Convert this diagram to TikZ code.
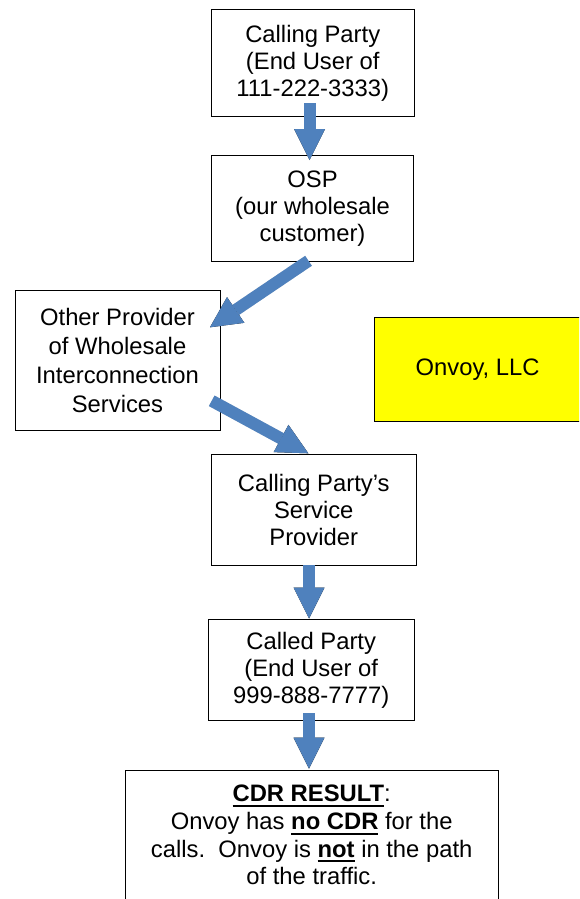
\documentclass[tikz,border=0pt]{standalone}
\usepackage{fontspec}
\setmainfont{Liberation Sans}
\usetikzlibrary{arrows.meta}
\definecolor{arrowblue}{HTML}{4F81BD}
\definecolor{boxyellow}{HTML}{FFFF00}
\newsavebox\ulbox
\newcommand\myul[1]{\sbox\ulbox{#1}\rlap{\rule[-5.2pt]{\wd\ulbox}{1.9pt}}\usebox\ulbox}
\begin{document}
\begin{tikzpicture}[x=1pt,y=-1pt,
  box/.style={draw=black, line width=1pt, align=center, inner sep=0pt,
    font=\fontsize{23.8pt}{27pt}\selectfont},
  blockarrow/.style={draw=arrowblue, line width=12pt,
    -{Triangle[width=31pt,length=31pt,line width=0pt]}},
  arrowshadow/.style={draw=black, draw opacity=0.12, line width=12pt,
    -{Triangle[width=31pt,length=31pt,line width=0pt]}}
]
\useasboundingbox (0,0) rectangle (579,899);
\clip (0,0) rectangle (579,899);
\fill[white] (0,0) rectangle (579,899);

\node[box, minimum width=202.5pt, minimum height=107pt] (b1) at (312.75,63)
  {Calling Party\\(End User of\\111-222-3333)};
\node[box, minimum width=202pt, minimum height=106pt] (b2) at (312.5,208.5)
  {OSP\\(our wholesale\\customer)};
\node[box, minimum width=205pt, minimum height=140pt,
  font=\fontsize{23.8pt}{29pt}\selectfont] (b3) at (117.5,360)
  {Other Provider\\of Wholesale\\Interconnection\\Services};
\node[box, fill=boxyellow, minimum width=206.7pt, minimum height=104.4pt] (b4) at (477.6,369.5)
  {Onvoy, LLC};
\node[box, minimum width=205.5pt, minimum height=111pt] (b5) at (313.75,509.5)
  {Calling Party’s\\Service\\Provider};
\node[box, minimum width=205.7pt, minimum height=101.5pt] (b6) at (311.2,670.2)
  {Called Party\\(End User of\\999-888-7777)};
\node[box, minimum width=373.3pt, minimum height=130pt,
  font=\fontsize{23.8pt}{27.7pt}\selectfont] (b7) at (311.7,835)
  {\myul{\textbf{CDR RESULT}}:\\
   Onvoy has \myul{\textbf{no CDR}} for the\\
   calls.\ \ Onvoy is \myul{\textbf{not}} in the path\\
   of the traffic.};

\coordinate (t1) at (309.5,103);   \coordinate (h1) at (309.5,160);
\coordinate (t2) at (308.5,260.8); \coordinate (h2) at (210,327.3);
\coordinate (t3) at (211.7,400.8); \coordinate (h3) at (308.3,453.3);
\coordinate (t4) at (309,565);     \coordinate (h4) at (309,618.5);
\coordinate (t5) at (309,713);     \coordinate (h5) at (309,768.5);

\begin{scope}[shift={(1.5,2)}]
  \foreach \i in {1,...,5} { \draw[arrowshadow] (t\i) -- (h\i); }
\end{scope}
\foreach \i in {1,...,5} { \draw[blockarrow] (t\i) -- (h\i); }
\end{tikzpicture}
\end{document}
